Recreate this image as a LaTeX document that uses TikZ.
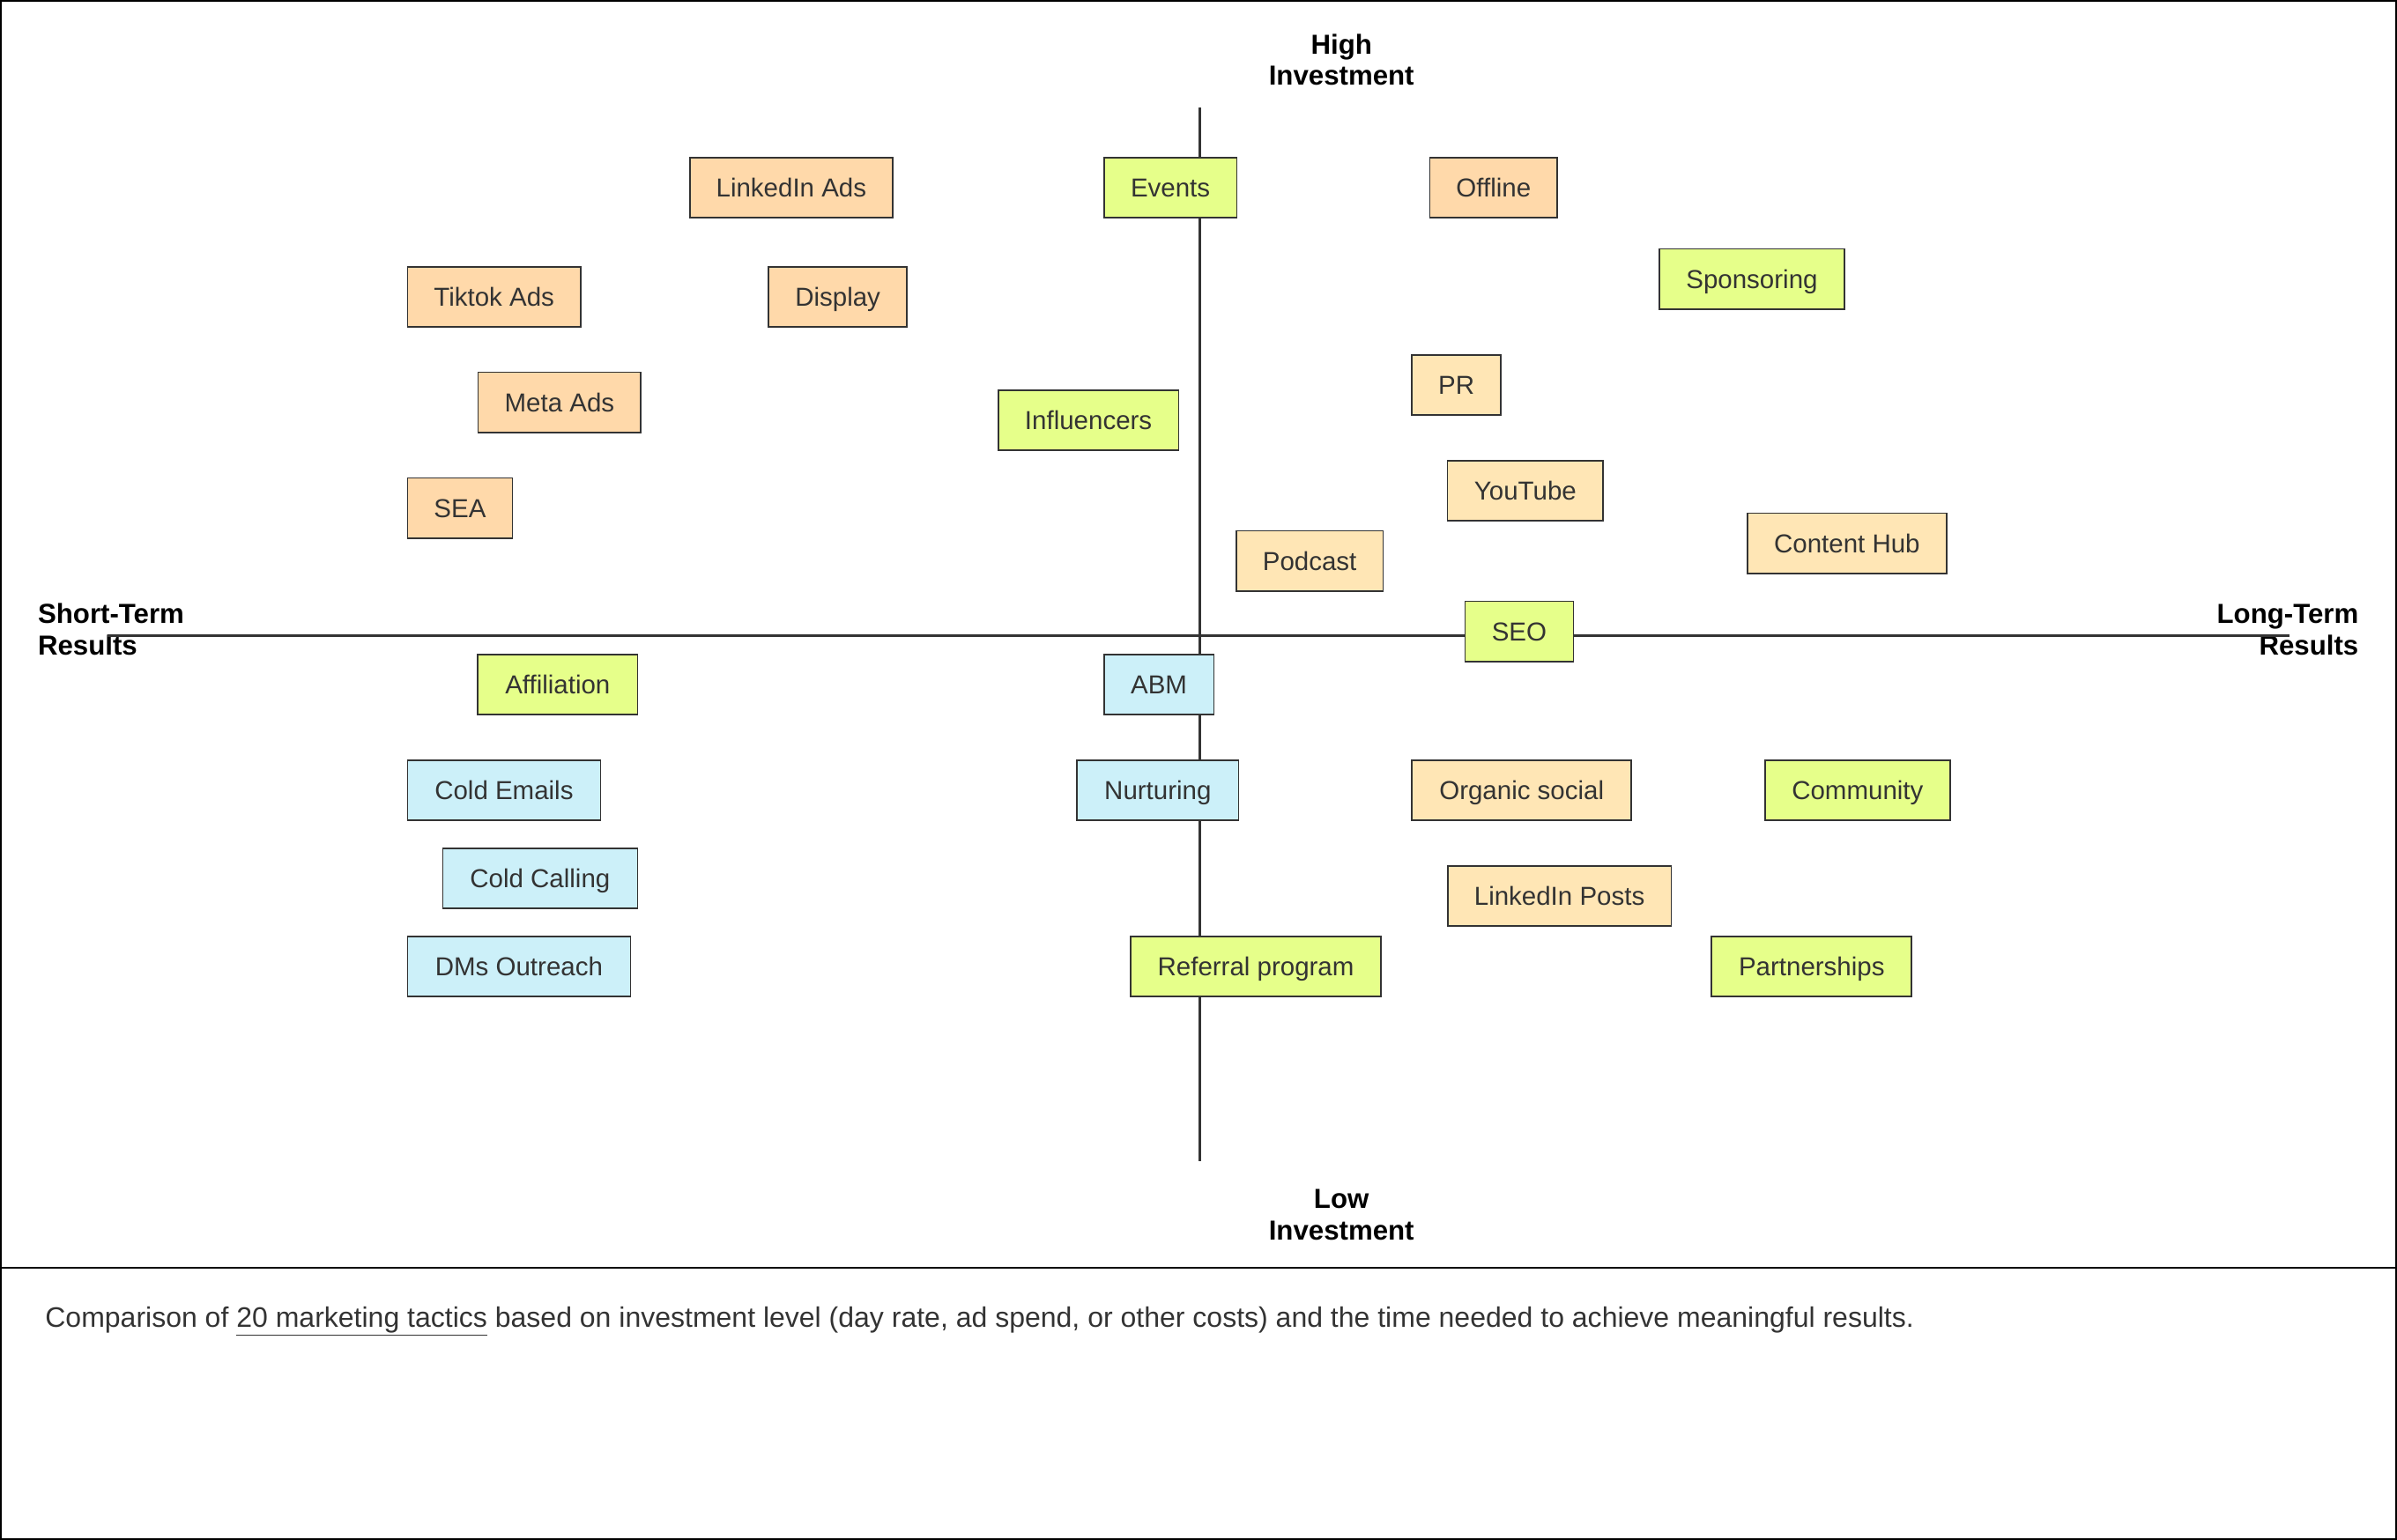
\documentclass[tikz,border=0pt]{standalone}
\usepackage{fontspec}
\setmainfont{Liberation Sans}
\definecolor{peach}{HTML}{FFD9AA}
\definecolor{lightor}{HTML}{FFE6B5}
\definecolor{greenbox}{HTML}{E6FF8A}
\definecolor{bluebox}{HTML}{CCF0F9}
\definecolor{edge}{HTML}{333333}
\begin{document}
\begin{tikzpicture}[x=1pt,y=-1pt,
  tactic/.style={draw=edge, line width=1pt, inner sep=0pt, minimum height=39.4pt,
    text height=13pt, text depth=0.6pt,
    text=edge, font=\fontsize{17}{20}\selectfont},
  pk/.style={tactic, fill=peach},
  lo/.style={tactic, fill=lightor},
  gr/.style={tactic, fill=greenbox},
  bl/.style={tactic, fill=bluebox},
  axlab/.style={inner sep=0pt, font=\bfseries\fontsize{18}{20.4}\selectfont, text=black},
  axisline/.style={draw=edge, line width=1.9pt},
  frameline/.style={draw=black, line width=1.2pt}]
\useasboundingbox (0,0) rectangle (1568,1007.6);
\draw[frameline] (0.6,0.6) rectangle (1567.4,1007.0);
\coordinate (sepL) at (0,829.6);
\coordinate (sepR) at (1568,829.6);
\draw[frameline] (sepL) -- (sepR);
% axis labels
\node[axlab, align=center, anchor=base] (high) at (877.5,55.7) {High\\Investment};
\node[axlab, align=center, anchor=base] (low) at (877.5,811.3) {Low\\Investment};
\node[axlab, align=left, anchor=base west] (short) at (24.6,428.5) {Short-Term\\Results};
\node[axlab, align=right, anchor=base east] (long) at (1543,428.5) {Long-Term\\Results};
% axes
\coordinate (xl) at (70.5,416);
\coordinate (xr) at (1497.5,416);
\coordinate (yt) at (785,70.5);
\coordinate (yb) at (785,759.6);
\draw[axisline] (xl) -- (xr);
\draw[axisline] (yt) -- (yb);
% tactics
\node[pk, minimum width=132.8pt] (linkedinads) at (517.6,122.7) {LinkedIn Ads};
\node[gr, minimum width=86.9pt] (events) at (765.6,122.8) {Events};
\node[pk, minimum width=83.4pt] (offline) at (977.0,122.7) {Offline};
\node[gr, minimum width=121.2pt] (sponsoring) at (1146.0,182.6) {Sponsoring};
\node[pk, minimum width=113.2pt] (tiktok) at (323.2,194.2) {Tiktok Ads};
\node[pk, minimum width=90.4pt] (display) at (548.0,194.2) {Display};
\node[pk, minimum width=106.5pt] (meta) at (366.0,263.3) {Meta Ads};
\node[pk, minimum width=68.5pt] (sea) at (300.9,332.5) {SEA};
\node[lo, minimum width=58.2pt] (pr) at (952.7,251.8) {PR};
\node[gr, minimum width=117.9pt] (influencers) at (712.0,274.9) {Influencers};
\node[lo, minimum width=101.9pt] (youtube) at (997.8,321.0) {YouTube};
\node[lo, minimum width=130.5pt] (contenthub) at (1208.2,355.5) {Content Hub};
\node[lo, minimum width=96.1pt] (podcast) at (856.7,367.0) {Podcast};
\node[gr, minimum width=70.8pt] (seo) at (993.8,413.1) {SEO};
\node[gr, minimum width=104.4pt] (affiliation) at (364.8,447.8) {Affiliation};
\node[bl, minimum width=72pt] (abm) at (758.1,447.8) {ABM};
\node[bl, minimum width=126.3pt] (coldemails) at (329.7,517.0) {Cold Emails};
\node[bl, minimum width=105.6pt] (nurturing) at (757.4,517.0) {Nurturing};
\node[lo, minimum width=143.4pt] (organic) at (995.4,517.0) {Organic social};
\node[gr, minimum width=120.8pt] (community) at (1215.1,517.0) {Community};
\node[bl, minimum width=127.4pt] (coldcalling) at (353.3,574.7) {Cold Calling};
\node[lo, minimum width=146.3pt] (linkedinposts) at (1020.1,586.2) {LinkedIn Posts};
\node[bl, minimum width=145.9pt] (dms) at (339.5,632.3) {DMs Outreach};
\node[gr, minimum width=163.9pt] (referral) at (821.5,632.3) {Referral program};
\node[gr, minimum width=130.9pt] (partnerships) at (1185.1,632.3) {Partnerships};
% caption
\node[inner sep=0pt, anchor=base west, text=edge, font=\fontsize{18.45}{22}\selectfont] (caption) at (29.4,868.4)
  {Comparison of \underline{20 marketing tactics} based on investment level (day rate, ad spend, or other costs) and the time needed to achieve meaningful results.};
\end{tikzpicture}
\end{document}
